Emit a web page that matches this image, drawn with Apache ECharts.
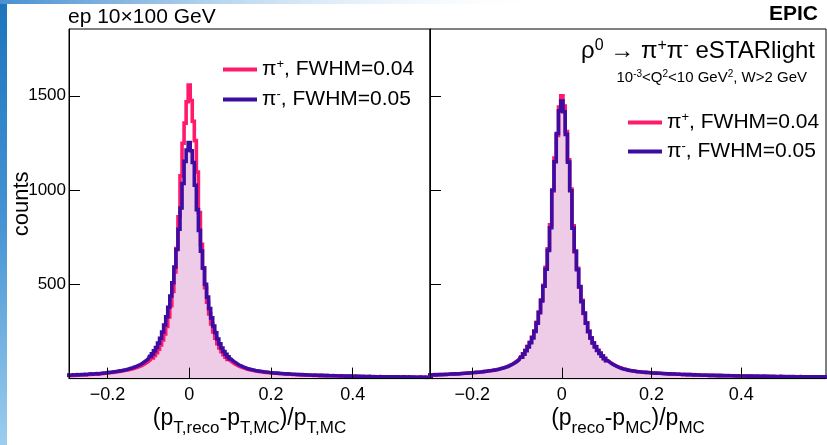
<!DOCTYPE html>
<html><head><meta charset="utf-8">
<script src="https://cdn.jsdelivr.net/npm/echarts@6/dist/echarts.min.js"></script>
<style>html,body{margin:0;padding:0;background:#fff}#c{width:827px;height:445px}</style>
</head><body><div id="c"></div>
<script>
// histogram binning (bin centres start at binStart, spaced binWidth)
const binStart = -0.3, binWidth = 0.005;

// Left panel: (pT,reco - pT,MC)/pT,MC
const piPlusPt = [
16,17,16,18,17,19,18,20,19,21,
20,22,22,23,23,25,24,26,27,28,
29,31,32,33,35,36,38,40,42,44,
46,48,51,54,57,61,65,70,76,83,
90,99,110,123,138,156,178,205,237,277,
327,387,462,566,690,858,1075,1248,1355,1468,
1557,
1475,1365,1262,1095,880,712,588,482,405,343,
290,248,214,185,162,143,127,113,102,92,
84,77,71,65,61,57,53,50,47,45,
43,41,39,37,36,34,33,32,31,30,
29,28,27,27,26,25,24,24,23,22,
22,21,21,20,20,19,19,18,18,17,
18,17,16,17,16,16,15,15,15,14,
15,14,13,14,13,13,12,13,12,12,
12,11,12,11,11,10,11,11,10,10,
10,9,10,9,10,9,9,9,8,9,
8,9,8,8,8,7,8,7,8,7,
7,7,8,7,7,6,7,7,6,7];
const piMinusPt = [
18,19,18,20,19,21,20,22,21,23,
22,24,25,24,26,27,26,28,29,30,
32,33,34,36,37,39,41,42,45,47,
50,53,56,60,64,69,74,80,88,96,
105,118,131,147,165,188,214,247,284,328,
378,438,508,592,685,792,905,1035,1152,1212,
1252,
1208,1146,1025,896,786,676,586,500,432,372,
322,279,243,210,184,162,144,129,116,104,
94,86,79,72,67,62,58,54,51,48,
46,43,41,40,38,36,35,34,32,31,
30,29,29,27,27,26,25,25,24,23,
23,22,22,21,21,20,20,19,19,18,
19,18,17,18,17,16,17,16,15,16,
15,15,14,15,14,13,14,13,13,12,
13,12,12,11,12,11,11,12,10,11,
10,10,11,10,9,10,10,9,9,10,
9,9,8,9,9,8,9,8,8,8,
7,8,8,7,8,7,7,8,7,7];

// Right panel: (p_reco - p_MC)/p_MC
const piPlusP = [
18,19,20,19,21,20,22,22,22,23,
23,25,24,26,26,26,28,28,29,31,
31,32,34,34,36,37,39,40,42,44,
46,48,50,54,57,61,66,71,77,85,
93,103,116,131,150,171,193,220,254,298,
353,418,495,590,688,815,995,1170,1290,1440,
1500,
1445,1310,1160,1005,810,672,585,485,415,345,
296,252,216,190,170,150,135,121,107,96,
87,79,72,66,61,56,52,49,46,43,
42,40,38,36,35,34,33,32,31,30,
30,28,28,28,26,27,25,26,24,25,
23,24,22,23,21,22,21,20,21,19,
20,18,18,19,17,17,18,16,17,16,
16,15,16,15,15,14,15,14,14,13,
14,13,13,14,12,13,12,12,13,11,
12,11,12,11,11,10,11,11,10,11,
10,11,10,10,9,10,10,9,10,9,
9,10,9,9,10,9,8,9,9,8];
const piMinusP = [
19,20,19,21,20,21,22,21,23,22,
24,24,25,26,25,27,27,28,29,30,
31,32,33,34,35,37,38,40,42,43,
45,47,50,53,56,60,64,70,76,83,
91,101,113,130,148,168,190,216,250,294,
350,412,490,580,680,800,1000,1150,1300,1420,
1472,
1415,1295,1148,996,798,676,578,488,408,348,
294,249,215,189,168,149,134,119,106,95,
86,78,71,65,60,55,51,48,45,43,
41,39,37,36,35,34,33,32,31,30,
29,29,28,27,27,26,25,25,24,24,
23,23,22,22,21,21,21,20,20,19,
19,18,19,18,17,18,17,17,16,17,
16,16,15,16,15,15,14,15,14,14,
14,13,14,13,13,12,13,12,12,13,
12,12,11,12,11,11,12,11,11,10,
11,10,11,10,10,11,10,10,9,10,
10,9,10,9,9,10,9,9,9,9];

const xTicks = [-0.2, 0, 0.2, 0.4];
const yTicks = [0, 500, 1000, 1500];
const yTickLabels = [500, 1000, 1500];
const legendLabels = {
  'pip_pt': '{a|\u03c0}{s|+}{a|, FWHM=0.04}',
  'pim_pt': '{a|\u03c0}{s|-}{a|, FWHM=0.05}',
  'pip_p':  '{a|\u03c0}{s|+}{a|, FWHM=0.04}',
  'pim_p':  '{a|\u03c0}{s|-}{a|, FWHM=0.05}'
};

const FONT = "'Liberation Sans', Arial, Helvetica, sans-serif";
const PINK = '#ff1a6c', BLUE = '#3d0ca3', FILL = '#eecbe6';

function pairs(vals) {
  return vals.map((v, i) => [Math.round((binStart + i * binWidth) * 10000) / 10000, v]);
}
function lineSeries(name, vals, gi, color) {
  return { name, type: 'line', step: 'middle', xAxisIndex: gi, yAxisIndex: gi,
    data: pairs(vals), symbol: 'none', showSymbol: false, color,
    lineStyle: { color, width: 3.6, join: 'miter' }, z: 2 };
}
function fillSeries(name, vals, gi) {
  return { name, type: 'line', step: 'middle', xAxisIndex: gi, yAxisIndex: gi,
    data: pairs(vals), symbol: 'none', showSymbol: false, silent: true,
    lineStyle: { width: 0, opacity: 0 }, areaStyle: { color: FILL, opacity: 1 }, z: 1 };
}
function fmtX(v) {
  const r = Math.round(v * 10) / 10;
  return r < 0 ? '\u2212' + Math.abs(r) : String(r);
}
const legendRich = {
  a: { fontFamily: FONT, fontSize: 21, color: '#000' },
  s: { fontFamily: FONT, fontSize: 13, color: '#000', padding: [0, 0, 10, 0] }
};
const titleRich = {
  m: { fontFamily: FONT, fontSize: 23, color: '#000' },
  s: { fontFamily: FONT, fontSize: 17, color: '#000', padding: [19, 0, 0, 0] }
};
function xAxis(gi, name) {
  return { gridIndex: gi, type: 'value', min: -0.294, max: 0.589, z: 5,
    axisLine: { show: true, onZero: false, lineStyle: { color: '#000', width: 1 } },
    axisTick: { show: true, inside: true, length: 11, customValues: xTicks, lineStyle: { color: '#000', width: 1 } },
    axisLabel: { show: true, customValues: xTicks, formatter: fmtX, fontFamily: FONT, fontSize: 18, color: '#000', margin: 7 },
    splitLine: { show: false },
    name, nameLocation: 'middle', nameGap: 22, nameMoveOverlap: false, nameTextStyle: { rich: titleRich } };
}
function yAxis(gi, showLabels) {
  const ax = { gridIndex: gi, type: 'value', min: 0, max: 1854, z: 5,
    axisLine: { show: true, onZero: false, lineStyle: { color: '#000', width: 1 } },
    axisTick: { show: true, inside: true, length: 11, customValues: yTicks, lineStyle: { color: '#000', width: 1 } },
    axisLabel: { show: showLabels, customValues: yTickLabels, formatter: v => String(v),
      fontFamily: FONT, fontSize: 17, color: '#000', margin: 3 },
    splitLine: { show: false } };
  if (showLabels) {
    ax.name = 'counts'; ax.nameLocation = 'middle'; ax.nameGap = 36; ax.nameMoveOverlap = false;
    ax.nameTextStyle = { fontFamily: FONT, fontSize: 22, color: '#000' };
  }
  return ax;
}

const chart = echarts.init(document.getElementById('c'), null, { renderer: 'canvas' });
chart.setOption({
  animation: false,
  backgroundColor: '#fff',
  grid: [
    { left: 69, top: 29, width: 361, height: 349.6, show: true, borderColor: '#000', borderWidth: 1, backgroundColor: 'transparent' },
    { left: 430, top: 29, width: 396, height: 349.6, show: true, borderColor: '#000', borderWidth: 1, backgroundColor: 'transparent' }
  ],
  xAxis: [
    xAxis(0, '{m|(p}{s|T,reco}{m|-p}{s|T,MC}{m|)/p}{s|T,MC}'),
    xAxis(1, '{m|(p}{s|reco}{m|-p}{s|MC}{m|)/p}{s|MC}')
  ],
  yAxis: [yAxis(0, true), yAxis(1, false)],
  legend: [
    { data: ['pip_pt', 'pim_pt'], left: 218, top: 53, orient: 'vertical', icon: 'rect',
      itemWidth: 34, itemHeight: 4, itemGap: 8, selectedMode: false,
      formatter: n => legendLabels[n], textStyle: { rich: legendRich } },
    { data: ['pip_p', 'pim_p'], left: 623, top: 106, orient: 'vertical', icon: 'rect',
      itemWidth: 34, itemHeight: 4, itemGap: 7, selectedMode: false,
      formatter: n => legendLabels[n], textStyle: { rich: legendRich } }
  ],
  series: [
    fillSeries('fill_pt', piMinusPt, 0),
    lineSeries('pip_pt', piPlusPt, 0, PINK),
    lineSeries('pim_pt', piMinusPt, 0, BLUE),
    fillSeries('fill_p', piMinusP, 1),
    lineSeries('pip_p', piPlusP, 1, PINK),
    lineSeries('pim_p', piMinusP, 1, BLUE)
  ],
  graphic: [
    { type: 'rect', left: 0, top: 0, z: -10, silent: true, shape: { width: 7, height: 445 },
      style: { fill: new echarts.graphic.LinearGradient(0, 0, 0, 1, [
        { offset: 0, color: '#1b74bd' }, { offset: 0.5, color: '#4594d3' }, { offset: 1, color: '#9ccdee' }]) } },
    { type: 'rect', left: 0, top: 0, z: -10, silent: true, shape: { width: 560, height: 4 },
      style: { fill: new echarts.graphic.LinearGradient(0, 0, 1, 0, [
        { offset: 0, color: '#4a90d0' }, { offset: 0.4, color: '#b9d7ef' }, { offset: 1, color: 'rgba(255,255,255,0)' }]) } },
    { type: 'text', x: 68, y: 17.5, silent: true,
      style: { text: 'ep 10\u00d7100 GeV', font: '21px ' + FONT, fill: '#000', align: 'left', verticalAlign: 'middle' } },
    { type: 'text', x: 818, y: 14.5, silent: true,
      style: { text: 'EPIC', font: 'bold 21px ' + FONT, fill: '#000', align: 'right', verticalAlign: 'middle' } },
    { type: 'text', x: 815, y: 51, silent: true,
      style: { text: '{m|\u03c1}{u|0}{m| \u2192 \u03c0}{u|+}{m|\u03c0}{u|-}{m| eSTARlight}',
        align: 'right', verticalAlign: 'middle',
        rich: { m: { fontFamily: FONT, fontSize: 24, fill: '#000', color: '#000' },
                u: { fontFamily: FONT, fontSize: 16, fill: '#000', color: '#000', padding: [0, 0, 10, 0] } } } },
    { type: 'text', x: 807, y: 78, silent: true,
      style: { text: '{n|10}{u|-3}{n|<Q}{u|2}{n|<10 GeV}{u|2}{n|, W>2 GeV}',
        align: 'right', verticalAlign: 'middle',
        rich: { n: { fontFamily: FONT, fontSize: 15, fill: '#000', color: '#000' },
                u: { fontFamily: FONT, fontSize: 10, fill: '#000', color: '#000', padding: [0, 0, 8, 0] } } } }
  ]
});
</script>
</body></html>
